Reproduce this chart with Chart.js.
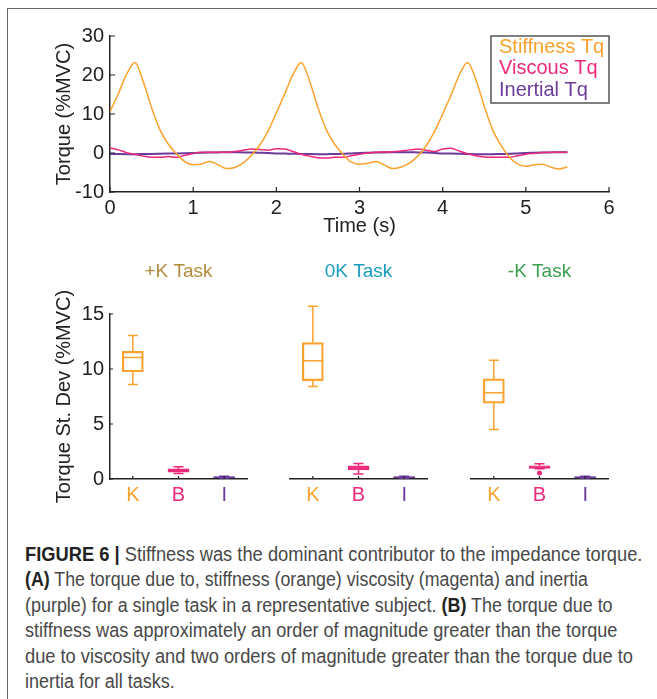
<!DOCTYPE html>
<html lang="en">
<head>
<meta charset="UTF-8">
<title>Figure 6 - Impedance torque</title>
<script src="https://cdn.jsdelivr.net/npm/chart.js"></script>
<style>
    body { margin: 0; width: 657px; height: 699px; overflow: hidden; background: #fff; position: relative;
        font-family: "Liberation Sans", Arial, sans-serif; }
    .frame { position: absolute; left: 7px; top: 8px; width: 720px; height: 760px; border: 1.5px solid #666; }
    canvas { position: absolute; }
    #caption { position: absolute; left: 25px; top: 542px; line-height: 25.4px; font-size: 20px; color: #484848;
        font-family: "Liberation Sans", Arial, sans-serif; }
    #caption div { white-space: nowrap; width: max-content; transform-origin: 0 50%; }
    #caption b { color: #222; }
</style>
</head>
<body>
<div class="frame"></div>
<canvas id="torqueChart" width="657" height="250" style="left:0;top:0"></canvas>
<canvas id="panelPlus" width="260" height="270" style="left:0;top:250px"></canvas>
<canvas id="panelZero" width="170" height="270" style="left:270px;top:250px"></canvas>
<canvas id="panelMinus" width="170" height="270" style="left:450px;top:250px"></canvas>

<div id="caption">
    <div><b>FIGURE 6 |</b> Stiffness was the dominant contributor to the impedance torque.</div>
    <div><b>(A)</b> The torque due to, stiffness (orange) viscosity (magenta) and inertia</div>
    <div>(purple) for a single task in a representative subject. <b>(B)</b> The torque due to</div>
    <div>stiffness was approximately an order of magnitude greater than the torque</div>
    <div>due to viscosity and two orders of magnitude greater than the torque due to</div>
    <div>inertia for all tasks.</div>
</div>

<script>
// (A) torque traces, every 0.1 s
const timeSec = [0, 0.1, 0.2, 0.3, 0.4, 0.5, 0.6, 0.7, 0.8, 0.9,
    1.0, 1.1, 1.2, 1.3, 1.4, 1.5, 1.6, 1.7, 1.8, 1.9,
    2.0, 2.1, 2.2, 2.3, 2.4, 2.5, 2.6, 2.7, 2.8, 2.9,
    3.0, 3.1, 3.2, 3.3, 3.4, 3.5, 3.6, 3.7, 3.8, 3.9,
    4.0, 4.1, 4.2, 4.3, 4.4, 4.5, 4.6, 4.7, 4.8, 4.9,
    5.0, 5.1, 5.2, 5.3, 5.4, 5.5];
const stiffnessTq = [10.6, 15.2, 20.2, 23.2, 18.3, 11.6, 6.0, 2.3, -0.2, -2.2,
    -3.0, -2.8, -2.2, -3.0, -4.0, -3.7, -2.6, -0.6, 2.0, 5.6,
    10.3, 15.1, 20.1, 23.2, 18.4, 11.7, 6.0, 2.3, -0.3, -2.3,
    -2.9, -2.6, -2.2, -3.1, -4.0, -3.6, -2.6, -0.8, 1.8, 5.4,
    10.0, 14.8, 20.0, 23.2, 18.8, 12.0, 6.0, 2.0, -1.0, -2.8,
    -3.4, -3.0, -2.9, -3.6, -4.1, -3.6];
const viscousTq = [1.3, 0.8, 0.1, -0.4, -0.8, -1.1, -1.1, -0.9, -1.1, -0.6,
    -0.1, 0.2, 0.2, 0.2, 0.2, 0.4, 0.7, 1.0, 0.9, 0.7,
    1.1, 1.0, 0.4, -0.3, -0.8, -1.2, -1.3, -1.1, -1.1, -0.7,
    -0.3, 0.0, 0.2, 0.25, 0.3, 0.5, 0.8, 1.0, 0.7, 0.4,
    1.0, 1.2, 0.5, -0.2, -0.7, -1.0, -1.1, -1.1, -1.1, -0.7,
    -0.3, -0.1, 0.1, 0.2, 0.2, 0.2];
const inertialTq = [-0.25, -0.28, -0.3, -0.3, -0.28, -0.25, -0.2, -0.15, -0.1, -0.05,
    0.0, 0.05, 0.1, 0.15, 0.2, 0.2, 0.15, 0.1, 0.05, 0.0,
    -0.1, -0.15, -0.2, -0.25, -0.28, -0.3, -0.3, -0.25, -0.2, -0.1,
    0.0, 0.05, 0.1, 0.15, 0.2, 0.2, 0.2, 0.15, 0.1, 0.0,
    -0.1, -0.15, -0.2, -0.25, -0.3, -0.3, -0.3, -0.25, -0.2, -0.1,
    0.0, 0.05, 0.1, 0.15, 0.2, 0.2];
const seriesNames = ['Stiffness Tq', 'Viscous Tq', 'Inertial Tq'];
const seriesColors = ['#F9A22E', '#EC297B', '#6A3B9B'];
const seriesWidths = [1.5, 1.5, 2];

// (B) box plots, one row per task, columns K, B, I
const boxLabels = ['K', 'B', 'I'];
const taskNames = ['+K Task', '0K Task', '-K Task'];
const taskColors = ['#B48B3A', '#1A9CBE', '#3A9E4F'];
const whiskerLow = [[8.6, 0.5, 0.07], [8.4, 0.45, 0.06], [4.5, 0.94, 0.07]];
const quartile1 = [[9.75, 0.62, 0.1], [8.95, 0.82, 0.1], [6.9, 0.96, 0.1]];
const medians = [[11.05, 0.77, 0.15], [10.75, 1.0, 0.15], [7.85, 1.07, 0.15]];
const quartile3 = [[11.6, 0.93, 0.2], [12.4, 1.2, 0.2], [9.1, 1.2, 0.2]];
const whiskerHigh = [[13.05, 1.12, 0.24], [15.7, 1.42, 0.25], [10.8, 1.38, 0.24]];
const outliers = [[null, null, null], [null, null, null], [null, 0.55, null]];

// caption line widths in the figure (the journal font is condensed)
const captionWidths = [617, 563, 588, 592, 608, 150];

Chart.defaults.font.family = '"Liberation Sans", Arial, sans-serif';
Chart.defaults.font.size = 20;
Chart.defaults.color = '#222';

// tick marks pointing into the plot, like the matlab axes
const innerTicks = {
    id: 'innerTicks',
    afterDraw(chart, args, opts) {
        const ctx = chart.ctx, a = chart.chartArea;
        ctx.save();
        ctx.strokeStyle = '#222';
        ctx.lineWidth = 1.2;
        ctx.beginPath();
        if (opts.x) {
            const xs = chart.scales.x;
            xs.ticks.forEach((t, i) => {
                const px = xs.getPixelForTick(i);
                ctx.moveTo(px, a.bottom);
                ctx.lineTo(px, a.bottom - opts.x);
            });
        }
        if (opts.y) {
            const ys = chart.scales.y;
            ys.ticks.forEach((t, i) => {
                const py = ys.getPixelForTick(i);
                ctx.moveTo(a.left, py);
                ctx.lineTo(a.left + opts.y, py);
            });
        }
        ctx.stroke();
        ctx.restore();
    }
};

// boxed legend with coloured text in the top right corner
const textLegend = {
    id: 'textLegend',
    afterDraw(chart) {
        const ctx = chart.ctx, a = chart.chartArea;
        const w = 118, h = 67;
        ctx.save();
        ctx.fillStyle = '#fff';
        ctx.fillRect(a.right - w, a.top, w, h);
        ctx.strokeStyle = '#555';
        ctx.lineWidth = 1.5;
        ctx.strokeRect(a.right - w, a.top, w, h);
        ctx.font = '20px "Liberation Sans", Arial, sans-serif';
        ctx.textBaseline = 'middle';
        chart.data.datasets.forEach((ds, i) => {
            ctx.fillStyle = ds.borderColor;
            ctx.fillText(ds.label, a.right - w + 8, a.top + 11 + i * 21.7);
        });
        ctx.restore();
    }
};

// whiskers, caps and medians on top of the floating-bar boxes
const boxWhiskers = {
    id: 'boxWhiskers',
    afterDatasetsDraw(chart, args, opts) {
        const ctx = chart.ctx, xs = chart.scales.x, ys = chart.scales.y;
        const t = opts.task;
        ctx.save();
        ctx.lineWidth = 1.5;
        boxLabels.forEach((lab, i) => {
            const cx = xs.getPixelForValue(i);
            ctx.strokeStyle = seriesColors[i];
            ctx.beginPath();
            ctx.moveTo(cx, ys.getPixelForValue(whiskerHigh[t][i]));
            ctx.lineTo(cx, ys.getPixelForValue(quartile3[t][i]));
            ctx.moveTo(cx, ys.getPixelForValue(quartile1[t][i]));
            ctx.lineTo(cx, ys.getPixelForValue(whiskerLow[t][i]));
            [whiskerHigh[t][i], whiskerLow[t][i]].forEach(v => {
                const py = ys.getPixelForValue(v);
                ctx.moveTo(cx - 5, py);
                ctx.lineTo(cx + 5, py);
            });
            const pm = ys.getPixelForValue(medians[t][i]);
            ctx.moveTo(cx - 10.5, pm);
            ctx.lineTo(cx + 10.5, pm);
            ctx.stroke();
        });
        ctx.restore();
    }
};

const panelTitle = {
    id: 'panelTitle',
    afterDraw(chart, args, opts) {
        const ctx = chart.ctx, a = chart.chartArea;
        ctx.save();
        ctx.font = '19px "Liberation Sans", Arial, sans-serif';
        ctx.fillStyle = opts.color;
        ctx.textAlign = 'center';
        ctx.textBaseline = 'middle';
        ctx.fillText(opts.text, (a.left + a.right) / 2, 22);
        ctx.restore();
    }
};

new Chart(document.getElementById('torqueChart'), {
    type: 'line',
    data: {
        datasets: [stiffnessTq, viscousTq, inertialTq].map((vals, k) => ({
            label: seriesNames[k],
            data: timeSec.map((t, i) => ({ x: t, y: vals[i] })),
            borderColor: seriesColors[k],
            borderWidth: seriesWidths[k],
            pointRadius: 0,
            cubicInterpolationMode: 'monotone',
            fill: false
        }))
    },
    options: {
        responsive: false,
        animation: false,
        layout: { padding: { left: 0, top: 36, right: 48, bottom: 0 } },
        plugins: {
            legend: { display: false },
            tooltip: { enabled: false },
            innerTicks: { x: 5, y: 5 }
        },
        scales: {
            x: {
                type: 'linear', min: 0, max: 6,
                ticks: { stepSize: 1, padding: 4 },
                grid: { drawOnChartArea: false, drawTicks: false },
                border: { color: '#222', width: 1.5 },
                title: { display: true, text: 'Time (s)', padding: { top: 0, bottom: 12 } },
                afterFit: s => { s.height = 58; }
            },
            y: {
                min: -10, max: 30,
                ticks: { stepSize: 10, padding: 6 },
                grid: { drawOnChartArea: false, drawTicks: false },
                border: { color: '#222', width: 1.5 },
                title: { display: true, text: 'Torque (%MVC)', padding: { top: 52, bottom: 0 } },
                afterFit: s => { s.width = 110; }
            }
        }
    },
    plugins: [innerTicks, textLegend]
});

function makePanel(id, t, showY, padLeft, padRight) {
    new Chart(document.getElementById(id), {
        type: 'bar',
        data: {
            labels: boxLabels,
            datasets: [{
                type: 'line',
                data: outliers[t],
                showLine: false,
                pointRadius: 2.5,
                pointBorderWidth: 0,
                pointBackgroundColor: seriesColors
            }, {
                data: boxLabels.map((c, i) => [quartile1[t][i], quartile3[t][i]]),
                backgroundColor: 'rgba(255,255,255,0)',
                borderColor: seriesColors,
                borderWidth: 1.5,
                borderSkipped: false,
                barThickness: 21
            }]
        },
        options: {
            responsive: false,
            animation: false,
            layout: { padding: { left: padLeft, top: 64, right: padRight, bottom: 0 } },
            plugins: {
                legend: { display: false },
                tooltip: { enabled: false },
                innerTicks: { x: 3, y: showY ? 3 : 0 },
                boxWhiskers: { task: t },
                panelTitle: { text: taskNames[t], color: taskColors[t] }
            },
            scales: {
                x: {
                    offset: true,
                    ticks: { padding: 4, maxRotation: 0, color: c => seriesColors[c.index] },
                    grid: { drawOnChartArea: false, drawTicks: false },
                    border: { color: '#222', width: 1.5 },
                    afterFit: s => { s.height = 41; }
                },
                y: {
                    display: showY,
                    min: 0, max: 15,
                    ticks: { stepSize: 5, padding: 6 },
                    grid: { drawOnChartArea: false, drawTicks: false },
                    border: { color: '#222', width: 1.5 },
                    title: { display: true, text: 'Torque St. Dev (%MVC)', padding: { top: 52, bottom: 0 } },
                    afterFit: s => { s.width = showY ? 110 : 0; }
                }
            }
        },
        plugins: [innerTicks, boxWhiskers, panelTitle]
    });
}

makePanel('panelPlus', 0, true, 0, 13);
makePanel('panelZero', 1, false, 20, 13);
makePanel('panelMinus', 2, false, 21, 12);

// squeeze each caption line to the width it has in the figure
document.querySelectorAll('#caption div').forEach((line, i) => {
    line.style.transform = 'scaleX(' + (captionWidths[i] / line.offsetWidth) + ')';
});
</script>
</body>
</html>
